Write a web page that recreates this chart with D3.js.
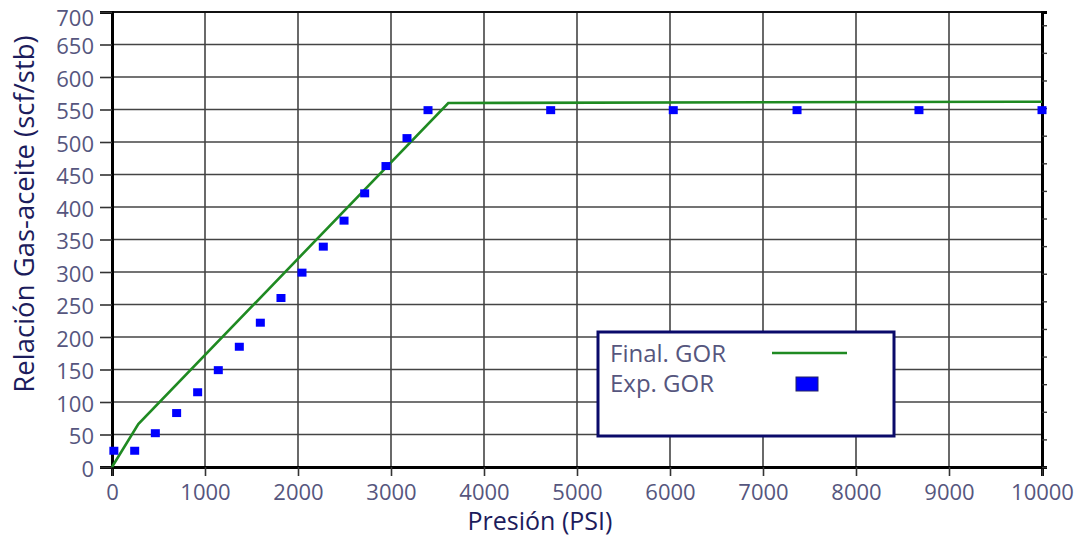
<!DOCTYPE html>
<html>
<head>
<meta charset="utf-8">
<script src="https://cdn.jsdelivr.net/npm/d3@7"></script>
<style>
  body { margin: 0; background: #fff; }
  svg text { font-family: "Open Sans", sans-serif; }
</style>
</head>
<body>
<div id="chart"></div>
<script>
// presión (psi) y GOR experimental
const presionExp = [20, 244, 466, 695, 921, 1143, 1369, 1595, 1817, 2043, 2272, 2495, 2717, 2946, 3172, 3398, 4717, 6035, 7366, 8677, 10000];
const gorExp = [25, 25, 52, 83, 115, 149, 185, 222, 260, 299, 339, 379, 421, 463, 506, 549, 549, 549, 549, 549, 549];

// curva final
const presionFinal = [0, 283, 3616, 10000];
const gorFinal = [0, 66, 560, 562];

const xTicks = [0, 1000, 2000, 3000, 4000, 5000, 6000, 7000, 8000, 9000, 10000];
const yTicks = [0, 50, 100, 150, 200, 250, 300, 350, 400, 450, 500, 550, 600, 650, 700];

const ancho = 1088, alto = 539;
const margen = { top: 12, right: 46, bottom: 72, left: 112 };

const svg = d3.select("#chart").append("svg")
    .attr("width", ancho)
    .attr("height", alto);

const x = d3.scaleLinear().domain([0, 10000]).range([margen.left, ancho - margen.right]);
const y = d3.scaleLinear().domain([0, 700]).range([alto - margen.bottom, margen.top]);
// eje derecho sin etiquetas, con otra escala
const yDer = d3.scaleLinear().domain([0, 16.48]).range([alto - margen.bottom, margen.top]);

const colorTexto = "#56567e";
const colorTitulo = "#1c1c5c";

// rejilla
svg.append("g")
    .selectAll("line.gx")
    .data(xTicks)
    .enter().append("line")
    .attr("x1", d => x(d)).attr("x2", d => x(d))
    .attr("y1", y(0)).attr("y2", y(700))
    .style("stroke", "#444").style("stroke-width", 1.6);

svg.append("g")
    .selectAll("line.gy")
    .data(yTicks)
    .enter().append("line")
    .attr("x1", x(0)).attr("x2", x(10000))
    .attr("y1", d => y(d)).attr("y2", d => y(d))
    .style("stroke", "#444").style("stroke-width", 1.6);

// marco superior
svg.append("line")
    .attr("x1", x(0)).attr("x2", x(10000))
    .attr("y1", y(700)).attr("y2", y(700))
    .style("stroke", "#111").style("stroke-width", 2);

// eje X
const ejeX = svg.append("g")
    .attr("transform", `translate(0,${y(0)})`)
    .call(d3.axisBottom(x).tickValues(xTicks).tickSize(9).tickPadding(8).tickFormat(d3.format("d")));
ejeX.select(".domain").style("stroke", "#000").style("stroke-width", 3);
ejeX.selectAll(".tick line").style("stroke", "#333").style("stroke-width", 1.6);
ejeX.selectAll("text").style("font-size", "22px").style("fill", colorTexto);

// eje Y
const ejeY = svg.append("g")
    .attr("transform", `translate(${x(0)},0)`)
    .call(d3.axisLeft(y).tickValues(yTicks).tickSize(12).tickPadding(6).tickFormat(d3.format("d")));
ejeY.select(".domain").style("stroke", "#000").style("stroke-width", 3);
ejeY.selectAll(".tick line").style("stroke", "#333").style("stroke-width", 1.6);
ejeY.selectAll("text")
    .attr("dy", d => d === 700 ? "0.62em" : "0.42em")
    .style("font-size", "22px")
    .style("fill", colorTexto);

// eje derecho
const ejeDer = svg.append("g")
    .attr("transform", `translate(${x(10000)},0)`)
    .call(d3.axisRight(yDer).ticks(16).tickSize(5).tickFormat(""));
ejeDer.select(".domain").style("stroke", "#000").style("stroke-width", 3);
ejeDer.selectAll(".tick line").style("stroke", "#333").style("stroke-width", 1.4);

// curva final
const linea = d3.line()
    .x((d, i) => x(presionFinal[i]))
    .y(d => y(d));

svg.append("path")
    .datum(gorFinal)
    .attr("d", linea)
    .style("fill", "none")
    .style("stroke", "#1f8a22")
    .style("stroke-width", 2.6);

// puntos experimentales
svg.append("g")
    .selectAll("rect")
    .data(gorExp)
    .enter().append("rect")
    .attr("x", (d, i) => x(presionExp[i]) - 4.5)
    .attr("y", d => y(d) - 4)
    .attr("width", 9)
    .attr("height", 8)
    .style("fill", "#0000ff");

// títulos
svg.append("text")
    .attr("transform", `translate(34,214) rotate(-90)`)
    .attr("text-anchor", "middle")
    .text("Relación Gas-aceite (scf/stb)")
    .style("font-size", "27.5px")
    .style("fill", colorTitulo);

svg.append("text")
    .attr("x", 540)
    .attr("y", 530)
    .attr("text-anchor", "middle")
    .text("Presión (PSI)")
    .style("font-size", "25px")
    .style("fill", colorTitulo);

// leyenda
const leyenda = svg.append("g").attr("transform", "translate(598,332)");
leyenda.append("rect")
    .attr("width", 296).attr("height", 104)
    .style("fill", "#fff")
    .style("stroke", "#0a0a6a")
    .style("stroke-width", 3);

leyenda.append("text")
    .attr("x", 12).attr("y", 30)
    .text("Final. GOR")
    .style("font-size", "24px")
    .style("fill", colorTexto);
leyenda.append("line")
    .attr("x1", 174).attr("x2", 249)
    .attr("y1", 21).attr("y2", 21)
    .style("stroke", "#1f8a22").style("stroke-width", 2.6);

leyenda.append("text")
    .attr("x", 12).attr("y", 60)
    .text("Exp. GOR")
    .style("font-size", "24px")
    .style("fill", colorTexto);
leyenda.append("rect")
    .attr("x", 198).attr("y", 45)
    .attr("width", 22).attr("height", 14)
    .style("fill", "#0000ff")
    .style("stroke", "#222266")
    .style("stroke-width", 1);
</script>
</body>
</html>
